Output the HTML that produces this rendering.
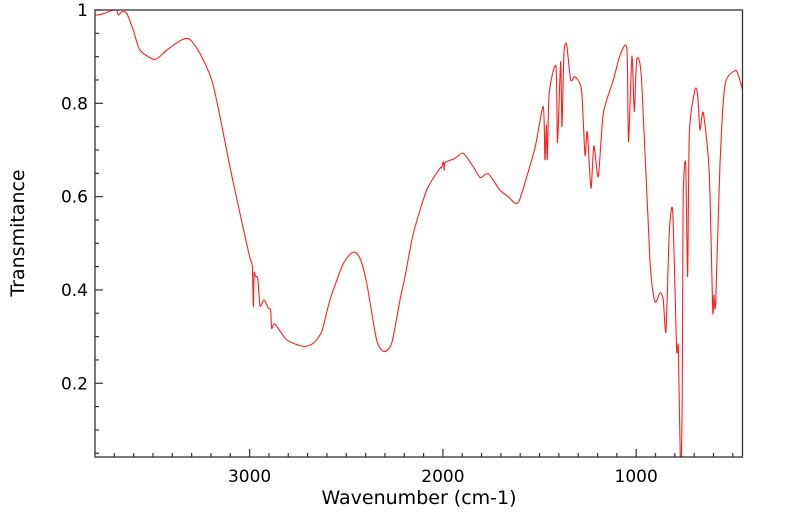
<!DOCTYPE html>
<html><head><meta charset="utf-8"><style>
html,body{margin:0;padding:0;background:#fff;}
svg{display:block;font-family:"DejaVu Sans","Liberation Sans",sans-serif;}
</style></head><body>
<svg id="chart" width="799" height="516" viewBox="0 0 799 516">
<defs><clipPath id="plotclip"><rect x="95" y="10" width="647.5" height="447"/></clipPath></defs>
<rect x="0" y="0" width="799" height="516" fill="#fff"/>
<g id="ticks"></g>
<path id="series" fill="none" stroke="#ff2020" stroke-width="1.1" clip-path="url(#plotclip)"/>
<rect x="95" y="10" width="647.5" height="447" fill="none" stroke="#333" stroke-width="1.3"/>
<text x="419" y="504" font-size="19" text-anchor="middle" fill="#000">Wavenumber (cm-1)</text>
<text x="24" y="233" font-size="19" text-anchor="middle" fill="#000" transform="rotate(-90 24 233)">Transmitance</text>
</svg>
<script>
const wavenumbers = [3800,3765,3705,3688,3679,3662,3636,3602,3567,3490,3429,3352,3309,3257,3196,3153,3102,3050,3000,2986,2981,2977,2969,2958,2946,2926,2903,2891,2886,2869,2808,2722,2670,2627,2584,2515,2464,2429,2394,2343,2305,2265,2222,2196,2153,2084,2015,2007,1998,1993,1989,1938,1895,1843,1808,1765,1705,1662,1627,1601,1524,1481,1472,1465,1460,1450,1415,1407,1391,1384,1374,1360,1339,1317,1283,1265,1253,1234,1219,1196,1170,1118,1083,1048,1040,1022,1010,997,972,929,903,877,860,846,829,811,791,782,770,762,757,744,734,725,696,682,670,653,622,604,598,589,567,541,489,472,450];
const transmittance = [0.989,0.991,1.0,1.0,0.989,0.996,0.993,0.957,0.914,0.894,0.914,0.936,0.937,0.907,0.85,0.771,0.664,0.564,0.471,0.45,0.364,0.436,0.428,0.425,0.366,0.379,0.361,0.357,0.318,0.327,0.293,0.279,0.286,0.311,0.379,0.457,0.481,0.468,0.414,0.293,0.268,0.286,0.379,0.429,0.521,0.614,0.661,0.661,0.675,0.657,0.673,0.682,0.693,0.664,0.641,0.649,0.614,0.6,0.586,0.596,0.704,0.793,0.679,0.754,0.68,0.822,0.879,0.716,0.889,0.75,0.907,0.926,0.85,0.857,0.829,0.689,0.739,0.618,0.709,0.643,0.779,0.85,0.904,0.916,0.718,0.901,0.782,0.894,0.85,0.464,0.375,0.394,0.379,0.311,0.521,0.568,0.275,0.275,0.0,0.164,0.593,0.671,0.429,0.736,0.829,0.818,0.743,0.78,0.65,0.357,0.389,0.37,0.664,0.839,0.87,0.861,0.83];
const xTickLabels = [3000,2000,1000];
const yTickLabels = [0.2,0.4,0.6,0.8,1];

const X0=95, X1=742.5, Y0=457, Y1=10;
const WN_MAX=3800, WN_MIN=450, T_MIN=0.042, T_MAX=1.0;
function xs(w){return X0+(WN_MAX-w)/(WN_MAX-WN_MIN)*(X1-X0);}
function ys(t){return Y0-(t-T_MIN)/(T_MAX-T_MIN)*(Y0-Y1);}
const NS='http://www.w3.org/2000/svg';
const svg=document.getElementById('chart');
const tg=document.getElementById('ticks');

const P=wavenumbers.map((w,i)=>[xs(w),ys(transmittance[i])]);
let d='M'+P[0][0].toFixed(2)+','+P[0][1].toFixed(2);
const k=0.12;
for(let i=0;i<P.length-1;i++){
  const p0=P[Math.max(0,i-1)],p1=P[i],p2=P[i+1],p3=P[Math.min(P.length-1,i+2)];
  const c1x=p1[0]+(p2[0]-p0[0])*k, c1y=p1[1]+(p2[1]-p0[1])*k;
  const c2x=p2[0]-(p3[0]-p1[0])*k, c2y=p2[1]-(p3[1]-p1[1])*k;
  d+='C'+c1x.toFixed(2)+','+c1y.toFixed(2)+' '+c2x.toFixed(2)+','+c2y.toFixed(2)+' '+p2[0].toFixed(2)+','+p2[1].toFixed(2);
}
document.getElementById('series').setAttribute('d',d);

function line(x1,y1,x2,y2,name){
  const l=document.createElementNS(NS,'line');
  l.setAttribute('x1',x1);l.setAttribute('y1',y1);l.setAttribute('x2',x2);l.setAttribute('y2',y2);
  l.setAttribute('stroke','#333');l.setAttribute('stroke-width','1.2');
  
  
  tg.appendChild(l);
}
function label(x,y,txt,anchor,name){
  const t=document.createElementNS(NS,'text');
  t.setAttribute('x',x);t.setAttribute('y',y);t.setAttribute('font-size','17');
  t.setAttribute('text-anchor',anchor);t.textContent=txt;
  
  
  svg.appendChild(t);
}
for(let w=3700;w>=WN_MIN;w-=100){
  const x=xs(w); const major=(w%1000===0);
  line(x,Y0,x,Y0-(major?8:4),major?'x-major-tick':'x-minor-tick');
}
xTickLabels.forEach(w=>label(xs(w),482,String(w),'middle','x-tick-label'));
for(let j=1;j<=20;j++){
  const t=j*0.05; if(t<T_MIN) continue;
  const y=ys(t); const major=(j%4===0);
  line(X0,y,X0+(major?8:4),y,major?'y-major-tick':'y-minor-tick');
}
yTickLabels.forEach(t=>label(88,ys(t)+6,String(t),'end','y-tick-label'));
</script>
</body></html>
